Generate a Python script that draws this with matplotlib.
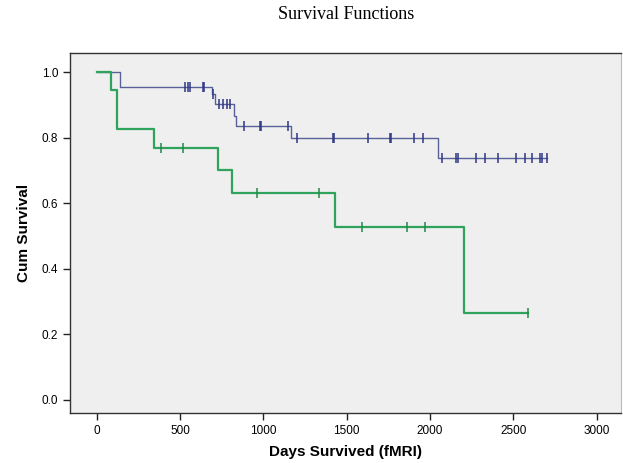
import numpy as np
import matplotlib
matplotlib.use("Agg")
import matplotlib.pyplot as plt

# Kaplan-Meier steps
blue_times = [0, 140, 690, 710, 826, 836, 1166, 2046]
blue_surv = [1.0, 0.955, 0.932, 0.902, 0.866, 0.836, 0.800, 0.737]
blue_end = 2700
blue_censor = [530, 548, 562, 636, 644, 700, 735, 760, 780, 800, 884, 980,
               986, 1150, 1204, 1416, 1424, 1630, 1760, 1768, 1904, 1960,
               2070, 2156, 2170, 2276, 2330, 2410, 2516, 2570, 2610, 2660,
               2670, 2700]

green_times = [0, 84, 124, 346, 726, 810, 1430, 2204]
green_surv = [1.0, 0.944, 0.826, 0.768, 0.700, 0.630, 0.527, 0.265]
green_end = 2590
green_censor = [384, 520, 960, 1334, 1590, 1860, 1970, 2590]

x_ticks = [0, 500, 1000, 1500, 2000, 2500, 3000]
y_ticks = [0.0, 0.2, 0.4, 0.6, 0.8, 1.0]

BLUE = "#5a6199"
BLUE_MARK = "#2e3784"
GREEN = "#2fa35c"
GREEN_MARK = "#1f8a48"


def draw_curve(ax, times, surv, end, censor, color, mark_color, lw):
    t = list(times) + [end]
    s = list(surv) + [surv[-1]]
    ax.step(t, s, where="post", color=color, lw=lw, zorder=3)
    idx = np.searchsorted(times, censor, side="right") - 1
    cy = np.array(surv)[idx]
    ax.plot(censor, cy, ls="none", marker="|", markersize=7,
            markeredgewidth=1.1, color=mark_color, zorder=4)


fig = plt.figure(figsize=(6.23, 4.63), dpi=100)
ax = fig.add_axes([0.1124, 0.108, 0.8844, 0.7775])
ax.set_facecolor("#efefef")

draw_curve(ax, blue_times, blue_surv, blue_end, blue_censor,
           BLUE, BLUE_MARK, 1.0)
draw_curve(ax, green_times, green_surv, green_end, green_censor,
           GREEN, GREEN_MARK, 1.6)

ax.set_xlim(-160, 3146)
ax.set_ylim(-0.04, 1.058)
ax.set_xticks(x_ticks)
ax.set_yticks(y_ticks)
ax.set_yticklabels(["{:.1f}".format(v) for v in y_ticks])
ax.tick_params(direction="out", length=5, width=1, labelsize=8.5,
               color="#222222")
for lab in ax.get_xticklabels() + ax.get_yticklabels():
    lab.set_family("Liberation Sans")

for side in ["left", "bottom", "top"]:
    ax.spines[side].set_color("#333333")
    ax.spines[side].set_linewidth(1.0)
ax.spines["right"].set_color("#bbbbbb")

ax.set_xlabel("Days Survived (fMRI)", fontsize=11, fontweight="bold",
              family="Liberation Sans", labelpad=6)
ax.set_ylabel("Cum Survival", fontsize=11, fontweight="bold",
              family="Liberation Sans", labelpad=8)

fig.text(0.555, 0.968, "Survival Functions", ha="center", va="center",
         fontsize=13, family="Liberation Serif")

fig.savefig("out.png", dpi=100, facecolor="white")
